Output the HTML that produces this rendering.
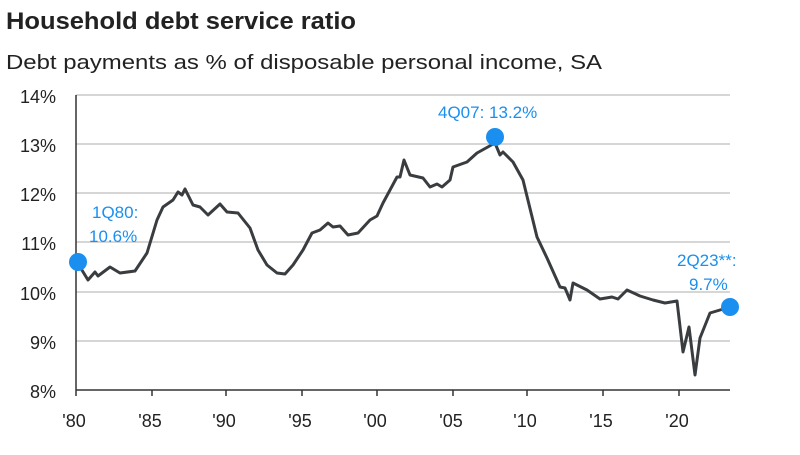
<!DOCTYPE html>
<html><head><meta charset="utf-8"><style>
body{margin:0;background:#fff;width:800px;height:450px;overflow:hidden;font-family:"Liberation Sans",sans-serif}
</style></head><body>
<svg width="800" height="450" viewBox="0 0 800 450" xmlns="http://www.w3.org/2000/svg" font-family="Liberation Sans, sans-serif">
<text x="6" y="29" font-size="24" font-weight="bold" fill="#222" textLength="350" lengthAdjust="spacingAndGlyphs">Household debt service ratio</text>
<text x="6" y="69" font-size="20" fill="#222" textLength="596" lengthAdjust="spacingAndGlyphs">Debt payments as % of disposable personal income, SA</text>
<g stroke="#c8c8c8" stroke-width="1.5">
<line x1="76" y1="95" x2="730" y2="95"/><line x1="76" y1="144" x2="730" y2="144"/>
<line x1="76" y1="193" x2="730" y2="193"/><line x1="76" y1="242" x2="730" y2="242"/>
<line x1="76" y1="292" x2="730" y2="292"/><line x1="76" y1="341" x2="730" y2="341"/>
</g>
<g stroke="#333" stroke-width="1.5">
<line x1="76" y1="95" x2="76" y2="390"/><line x1="76" y1="390" x2="730" y2="390"/>
<line x1="152" y1="390" x2="152" y2="396"/><line x1="226" y1="390" x2="226" y2="396"/>
<line x1="302" y1="390" x2="302" y2="396"/><line x1="377" y1="390" x2="377" y2="396"/>
<line x1="453" y1="390" x2="453" y2="396"/><line x1="527" y1="390" x2="527" y2="396"/>
<line x1="603" y1="390" x2="603" y2="396"/><line x1="679" y1="390" x2="679" y2="396"/>
<line x1="76" y1="390" x2="76" y2="396"/>
</g>
<g font-size="18" fill="#222" text-anchor="end">
<text x="56" y="103">14%</text><text x="56" y="152">13%</text><text x="56" y="201">12%</text>
<text x="56" y="250">11%</text><text x="56" y="300">10%</text><text x="56" y="349">9%</text><text x="56" y="398">8%</text>
</g>
<g font-size="18" fill="#222" text-anchor="middle">
<text x="74" y="427">'80</text><text x="150" y="427">'85</text><text x="224" y="427">'90</text>
<text x="300" y="427">'95</text><text x="375" y="427">'00</text><text x="451" y="427">'05</text>
<text x="525" y="427">'10</text><text x="601" y="427">'15</text><text x="677" y="427">'20</text>
</g>
<polyline fill="none" stroke="#3a3d40" stroke-width="3" stroke-linejoin="round" points="77,262 88,280 95,272 98,276 110,267 120,273 135,271 147,253 157,220 163,207 173,200 178,192 182,195 185,189 193,205 200,207 208,215 220,204 227,212 238,213 250,228 258,250 267,265 277,273 285,274 293,265 303,250 312,233 320,230 328,223 333,227 340,226 348,235 358,233 370,220 377,216 383,203 397,177 400,177 404,160 410,175 423,178 430,187 437,184 442,187 450,180 453,167 467,162 477,153 495,143 500,155 503,152 513,162 523,180 537,237 547,258 560,287 565,288 570,300 573,283 587,290 600,299 612,297 618,299 627,290 640,296 653,300 665,303 677,301 683,352 689,327 695,375 700,338 710,313 730,307"/>
<circle cx="78" cy="262" r="9" fill="#1a8ff0"/>
<circle cx="495" cy="137" r="9" fill="#1a8ff0"/>
<circle cx="730" cy="307" r="9" fill="#1a8ff0"/>
<g font-size="17" fill="#1a8ff0">
<text x="92" y="218">1Q80:</text><text x="89" y="242">10.6%</text>
<text x="438" y="118">4Q07:  13.2%</text>
<text x="677" y="266">2Q23**:</text><text x="689" y="290">9.7%</text>
</g>
</svg>
</body></html>
